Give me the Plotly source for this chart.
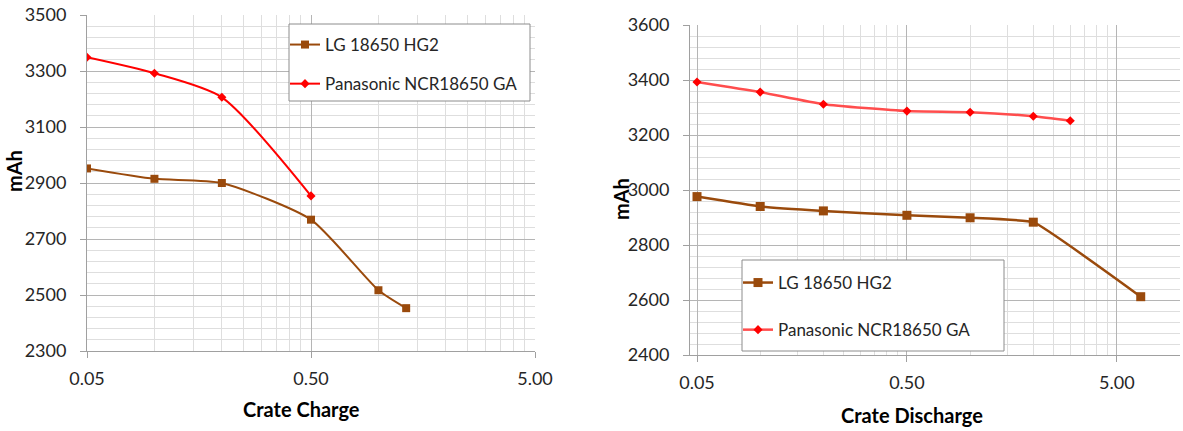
import math
import plotly.graph_objects as go

# ---- data ----
charge_lg_x = [0.05, 0.1, 0.2, 0.5, 1.0, 1.33]
charge_lg_y = [2952, 2915, 2900, 2769, 2517, 2453]
charge_pa_x = [0.05, 0.1, 0.2, 0.5]
charge_pa_y = [3349, 3292, 3206, 2854]

discharge_lg_x = [0.05, 0.1, 0.2, 0.5, 1.0, 2.0, 6.5]
discharge_lg_y = [2976, 2940, 2924, 2908, 2899, 2883, 2612]
discharge_pa_x = [0.05, 0.1, 0.2, 0.5, 1.0, 2.0, 3.0]
discharge_pa_y = [3393, 3356, 3312, 3287, 3283, 3268, 3252]

x_tick_vals = [0.05, 0.5, 5.0]
x_tick_text = ["0.05", "0.50", "5.00"]
series_names = ["LG 18650 HG2", "Panasonic NCR18650 GA"]

# ---- styling ----
W, H = 1183, 431
FONT = "Lato, 'Open Sans', sans-serif"
BROWN = "#9a4a0c"
RED = "#ff0000"
RED_LIGHT = "#ff4d4d"
MAJOR = "#b5b5b5"
MINOR = "#dedede"
AXIS = "#a0a0a0"
TXT = "#262626"


def px_x(p):
    return p / W


def px_y(p):
    return 1 - p / H


def minor_vals(lo, hi):
    out = []
    for b in x_tick_vals:
        for k in range(2, 10):
            v = b * k
            if lo <= v <= hi * 1.0001:
                out.append(v)
    return sorted(set(out))


fig = go.Figure()

# left chart traces (smoothed lines)
fig.add_trace(go.Scatter(
    x=charge_lg_x, y=charge_lg_y, name=series_names[0], mode="lines+markers",
    line=dict(color=BROWN, width=2, shape="spline", smoothing=0.6),
    marker=dict(symbol="square", size=8, color=BROWN),
    xaxis="x", yaxis="y", legend="legend", legendgroup="a1"))
fig.add_trace(go.Scatter(
    x=charge_pa_x, y=charge_pa_y, name=series_names[1], mode="lines+markers",
    line=dict(color=RED, width=2, shape="spline", smoothing=0.7),
    marker=dict(symbol="diamond", size=7, color=RED),
    xaxis="x", yaxis="y", legend="legend", legendgroup="a2"))

# right chart traces
fig.add_trace(go.Scatter(
    x=discharge_lg_x, y=discharge_lg_y, name=series_names[0], mode="lines+markers",
    line=dict(color=BROWN, width=2.5, shape="spline", smoothing=0.3),
    marker=dict(symbol="square", size=9, color=BROWN),
    xaxis="x2", yaxis="y2", legend="legend2", legendgroup="b1"))
fig.add_trace(go.Scatter(
    x=discharge_pa_x, y=discharge_pa_y, name=series_names[1], mode="lines+markers",
    line=dict(color=RED_LIGHT, width=2.5, shape="spline", smoothing=0.5),
    marker=dict(symbol="diamond", size=7, color=RED),
    xaxis="x2", yaxis="y2", legend="legend2", legendgroup="b2"))

tickfont = dict(family=FONT, size=18, color=TXT)
titlefont = dict(family=FONT, size=20, color="#000000", weight="bold")

left_rng = [math.log10(0.05), math.log10(5.0)]
right_rng = [math.log10(0.05) - 7 / 209.5, 1.0]


def xaxis(domain, rng, anchor):
    lo, hi = 10 ** rng[0], 10 ** rng[1]
    return dict(
        type="log", domain=domain, range=rng, anchor=anchor, automargin=False,
        tickmode="array", tickvals=x_tick_vals, ticktext=x_tick_text,
        tickfont=tickfont, ticks="outside", ticklen=6, tickcolor=AXIS,
        showgrid=True, gridcolor=MAJOR, gridwidth=1,
        minor=dict(tickmode="array", tickvals=minor_vals(lo, hi),
                   showgrid=True, gridcolor=MINOR, gridwidth=1, ticks=""),
        showline=True, linecolor=AXIS, linewidth=1,
        zeroline=False, ticklabelstandoff=5, ticklabeloverflow="allow",
    )


def yaxis(domain, rng, anchor):
    return dict(
        domain=domain, range=rng, anchor=anchor, automargin=False,
        tickmode="linear", tick0=rng[0], dtick=200,
        tickfont=tickfont, ticks="outside", ticklen=6, tickcolor=AXIS,
        showgrid=True, gridcolor=MAJOR, gridwidth=1,
        minor=dict(dtick=40, tick0=rng[0], showgrid=True, gridcolor=MINOR,
                   gridwidth=1, ticks=""),
        showline=True, linecolor=AXIS, linewidth=1,
        zeroline=False, ticklabelstandoff=10, ticklabeloverflow="allow",
    )


def title_ann(text, xc, yc, angle=0):
    return dict(text=text, x=px_x(xc), y=px_y(yc), xref="paper", yref="paper",
                xanchor="center", yanchor="middle", showarrow=False,
                textangle=angle, font=titlefont)


fig.update_layout(
    width=W, height=H,
    margin=dict(l=0, r=0, t=0, b=0, autoexpand=False),
    paper_bgcolor="white", plot_bgcolor="white",
    font=dict(family=FONT, color=TXT),
    showlegend=True,
    xaxis=xaxis([px_x(87), px_x(535)], left_rng, "y"),
    yaxis=yaxis([px_y(351), px_y(15)], [2300, 3500], "x"),
    xaxis2=xaxis([px_x(690), px_x(1180)], right_rng, "y2"),
    yaxis2=yaxis([px_y(355), px_y(25)], [2400, 3600], "x2"),
    annotations=[
        title_ann("mAh", 14, 171, -90),
        title_ann("Crate Charge", 301, 409),
        title_ann("mAh", 621, 199, -90),
        title_ann("Crate Discharge", 912, 415),
    ],
    legend=dict(
        x=px_x(285), y=px_y(27), xanchor="left", yanchor="top",
        bgcolor="rgba(0,0,0,0)", borderwidth=0,
        font=dict(family=FONT, size=17, color=TXT),
        traceorder="grouped", tracegroupgap=14, itemwidth=30),
    legend2=dict(
        x=px_x(738), y=px_y(265), xanchor="left", yanchor="top",
        bgcolor="rgba(0,0,0,0)", borderwidth=0,
        font=dict(family=FONT, size=17, color=TXT),
        traceorder="grouped", tracegroupgap=22, itemwidth=30),
    shapes=[
        dict(type="rect", xref="paper", yref="paper",
             x0=px_x(289), x1=px_x(530), y0=px_y(101), y1=px_y(24),
             fillcolor="white", line=dict(color="#8c8c8c", width=1), layer="above"),
        dict(type="rect", xref="paper", yref="paper",
             x0=px_x(742), x1=px_x(1004), y0=px_y(351), y1=px_y(260),
             fillcolor="white", line=dict(color="#8c8c8c", width=1), layer="above"),
    ],
)

# remove the page's default body margin so the figure sits at the window's corner
fig.write_html("out.html",
               config={"displayModeBar": False},
               post_script="document.body.style.margin='0';document.body.style.overflow='hidden';")
